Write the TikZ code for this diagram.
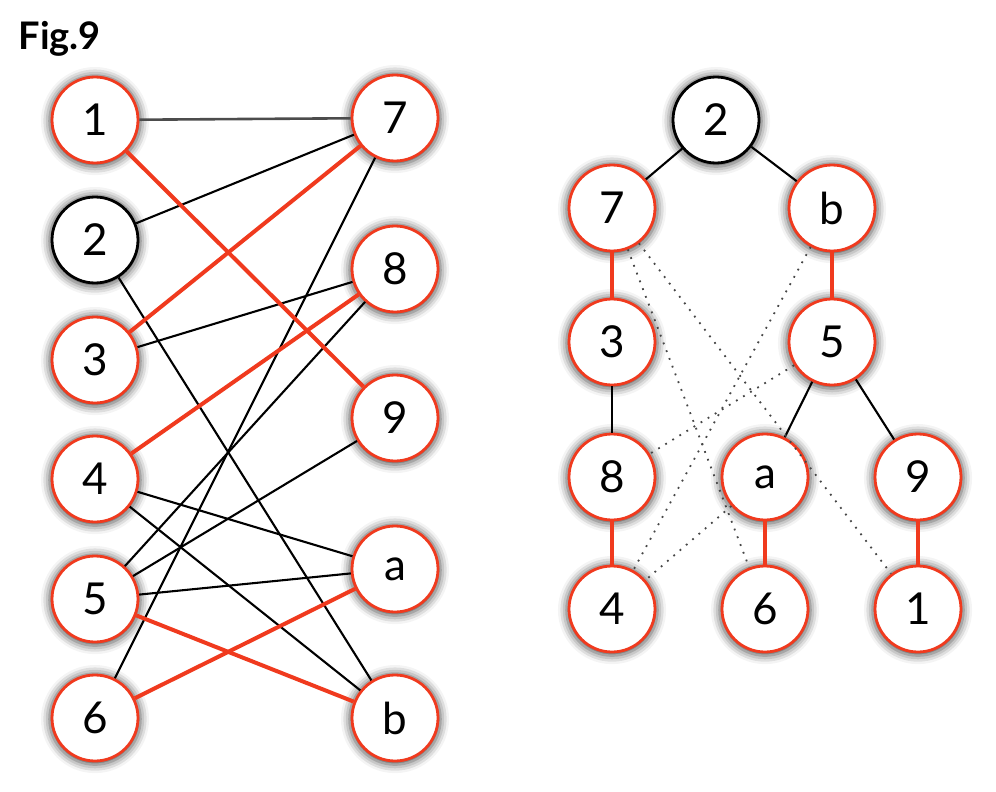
\documentclass[tikz,border=0pt]{standalone}
\usepackage{fontspec}
\setmainfont{Lato}
\usetikzlibrary{shadows.blur}
\definecolor{nred}{RGB}{240,58,30}
\definecolor{dotgray}{RGB}{70,70,70}
\tikzset{
  vtx/.style={circle, minimum size=86pt, inner sep=0pt, fill=white, line width=2.8pt,
    font=\fontsize{44}{44}\selectfont,
    blur shadow={shadow xshift=0pt, shadow yshift=-1pt, shadow blur radius=8pt, shadow opacity=70, shadow scale=1.06}},
  rv/.style={vtx, draw=nred},
  bv/.style={vtx, draw=black},
  redge/.style={draw=nred, line width=4pt},
  bedge/.style={draw=black, line width=2.1pt},
  gedge/.style={draw=black!70, line width=2.6pt},
  dedge/.style={draw=dotgray, line width=1.8pt, dash pattern=on 1.8pt off 6.5pt}
}
\begin{document}
\begin{tikzpicture}[x=1pt,y=-1pt]
\useasboundingbox (0,0) rectangle (996,792);
\node[anchor=base west, font=\fontsize{38}{38}\selectfont\bfseries] (fig) at (15,50) {Fig.9};
% bipartite graph
\node[rv] (L1) at (95,120) {1};
\node[bv] (L2) at (95,240) {2};
\node[rv] (L3) at (95,360) {3};
\node[rv] (L4) at (95,479) {4};
\node[rv] (L5) at (95,599) {5};
\node[rv] (L6) at (95,718) {6};
\node[rv] (R7) at (395,118) {7};
\node[rv] (R8) at (395,269) {8};
\node[rv] (R9) at (395,418) {9};
\node[rv] (Ra) at (395,569) {a};
\node[rv] (Rb) at (395,718) {b};
\draw[gedge] (L1) -- (R7);
\draw[bedge] (L2) -- (R7);
\draw[bedge] (L2) -- (Rb);
\draw[bedge] (L3) -- (R8);
\draw[bedge] (L4) -- (Ra);
\draw[bedge] (L4) -- (Rb);
\draw[bedge] (L5) -- (R8);
\draw[bedge] (L5) -- (R9);
\draw[bedge] (L5) -- (Ra);
\draw[bedge] (L6) -- (R7);
\draw[redge] (L1) -- (R9);
\draw[redge] (L3) -- (R7);
\draw[redge] (L4) -- (R8);
\draw[redge] (L5) -- (Rb);
\draw[redge] (L6) -- (Ra);
% tree
\node[bv] (T2) at (716,120) {2};
\node[rv] (T7) at (612,208) {7};
\node[rv] (Tb) at (832,208) {b};
\node[rv] (T3) at (612,342) {3};
\node[rv] (T5) at (832,342) {5};
\node[rv] (T8) at (612,477) {8};
\node[rv] (Ta) at (765,477) {a};
\node[rv] (T9) at (918,477) {9};
\node[rv] (T4) at (612,609) {4};
\node[rv] (T6) at (765,609) {6};
\node[rv] (T1) at (918,609) {1};
\draw[bedge] (T2) -- (T7);
\draw[bedge] (T2) -- (Tb);
\draw[bedge] (T3) -- (T8);
\draw[bedge] (T5) -- (Ta);
\draw[bedge] (T5) -- (T9);
\draw[redge] (T7) -- (T3);
\draw[redge] (Tb) -- (T5);
\draw[redge] (T8) -- (T4);
\draw[redge] (Ta) -- (T6);
\draw[redge] (T9) -- (T1);
\draw[dedge] (T7) -- (T6);
\draw[dedge] (T7) -- (T1);
\draw[dedge] (Tb) -- (T4);
\draw[dedge] (T5) -- (T8);
\draw[dedge] (Ta) -- (T4);
\end{tikzpicture}
\end{document}
